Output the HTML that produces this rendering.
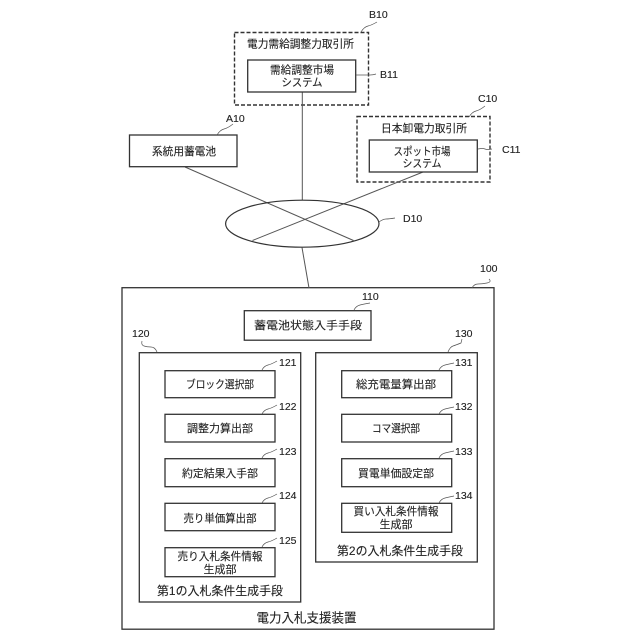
<!DOCTYPE html>
<html><head><meta charset="utf-8"><style>
html,body{margin:0;padding:0;background:#fff}
svg{display:block}
text{font-family:"Liberation Sans","Noto Sans CJK JP",sans-serif;fill:#222;stroke:#222;stroke-width:.12}
.t{font-size:11px;text-anchor:middle}
.n{font-size:10.5px;text-anchor:start}
.b{fill:#fff;stroke:#333;stroke-width:1.3}
.d{fill:none;stroke:#333;stroke-width:1.4;stroke-dasharray:4 2}
.l{stroke:#555;stroke-width:1;fill:none}
.w{stroke:#555;stroke-width:.7;fill:none}
</style></head><body>
<svg width="640" height="640" viewBox="0 0 640 640" xmlns="http://www.w3.org/2000/svg">
<rect width="640" height="640" fill="#fff"/>
<rect class="d" x="234.5" y="32.5" width="134" height="72.5"/>
<rect class="d" x="357" y="116.5" width="133" height="65.5"/>
<line class="l" x1="302.3" y1="92" x2="302.3" y2="200.5"/>
<line class="l" x1="185" y1="167" x2="353.5" y2="240.5"/>
<line class="l" x1="423" y1="172" x2="252.5" y2="240.5"/>
<ellipse cx="302.3" cy="223.7" rx="76.7" ry="23.5" fill="none" stroke="#333" stroke-width="1.2"/>
<rect class="b" x="247.7" y="60" width="108" height="32"/>
<rect class="b" x="129.5" y="135" width="107.5" height="31.7"/>
<rect class="b" x="369.3" y="140" width="108" height="32"/>
<rect x="122" y="287.7" width="372" height="341.5" fill="none" stroke="#333" stroke-width="1.3"/>
<line class="l" x1="302" y1="247.5" x2="309" y2="288"/>
<rect class="b" x="244.3" y="310.7" width="126.7" height="29.5"/>
<rect class="b" x="139.3" y="352.7" width="161.4" height="249.3"/>
<rect class="b" x="315.7" y="352.7" width="161.6" height="209.3"/>
<rect class="b" x="165" y="370.7" width="110" height="27"/>
<rect class="b" x="165" y="414.3" width="110" height="27.7"/>
<rect class="b" x="165" y="458.7" width="110" height="28"/>
<rect class="b" x="165" y="503.3" width="110" height="27.4"/>
<rect class="b" x="165" y="547.7" width="110" height="29"/>
<rect class="b" x="341.7" y="370.7" width="110" height="27"/>
<rect class="b" x="341.7" y="414.3" width="110" height="27.7"/>
<rect class="b" x="341.7" y="458.7" width="110" height="28"/>
<rect class="b" x="341.7" y="503.3" width="110" height="29"/>

<path class="w" d="M361 32q3-5 7-6t9-4"/>
<path class="w" d="M356 75q5 0 8 0t6 0 6-1"/>
<path class="w" d="M217 135q3-5 7-6t9-5"/>
<path class="w" d="M469 117q3-5 7-6t9-5"/>
<path class="w" d="M478 149q5-1 7 0t7 0"/>
<path class="w" d="M379 222q4-3 7-3t9-1"/>
<path class="w" d="M472 288q2-4 6-4t9-1 2-4"/>
<path class="w" d="M354 310q2-4 6-5t10-2"/>
<path class="w" d="M157 352q-2-5-6-5t-7-1-2-5"/>
<path class="w" d="M448 352q2-5 5-6t8-3l1-4"/>
<path class="w" d="M262 370q2-4 6-5t9-4"/>
<path class="w" d="M262 414q2-4 6-5t9-4"/>
<path class="w" d="M262 458q2-4 6-5t9-4"/>
<path class="w" d="M262 503q2-4 6-5t9-4"/>
<path class="w" d="M262 547q2-4 6-5t9-4"/>
<path class="w" d="M439 370q2-4 6-5t9-2"/>
<path class="w" d="M439 414q2-4 6-5t9-2"/>
<path class="w" d="M439 458q2-4 6-5t9-2"/>
<path class="w" d="M439 503q2-4 6-5t9-2"/>

<text class="t" x="300.5" y="47.5" textLength="107" lengthAdjust="spacingAndGlyphs">電力需給調整力取引所</text>
<text class="t" x="302" y="73.5" textLength="64" lengthAdjust="spacingAndGlyphs">需給調整市場</text>
<text class="t" x="302" y="86" textLength="41" lengthAdjust="spacingAndGlyphs">システム</text>
<text class="t" x="184" y="155" textLength="64" lengthAdjust="spacingAndGlyphs">系統用蓄電池</text>
<text class="t" x="424" y="132" textLength="86" lengthAdjust="spacingAndGlyphs">日本卸電力取引所</text>
<text class="t" x="422" y="155" textLength="57" lengthAdjust="spacingAndGlyphs">スポット市場</text>
<text class="t" x="422" y="167" textLength="39" lengthAdjust="spacingAndGlyphs">システム</text>
<text class="t" x="308" y="329" textLength="108" lengthAdjust="spacingAndGlyphs">蓄電池状態入手手段</text>
<text class="t" x="220" y="388" textLength="68" lengthAdjust="spacingAndGlyphs">ブロック選択部</text>
<text class="t" x="220" y="432" textLength="66" lengthAdjust="spacingAndGlyphs">調整力算出部</text>
<text class="t" x="220" y="477" textLength="76" lengthAdjust="spacingAndGlyphs">約定結果入手部</text>
<text class="t" x="220" y="522" textLength="73" lengthAdjust="spacingAndGlyphs">売り単価算出部</text>
<text class="t" x="220" y="560" textLength="85" lengthAdjust="spacingAndGlyphs">売り入札条件情報</text>
<text class="t" x="220" y="573" textLength="33" lengthAdjust="spacingAndGlyphs">生成部</text>
<text class="t" x="220" y="595" style="font-size:12px" textLength="126" lengthAdjust="spacingAndGlyphs">第1の入札条件生成手段</text>
<text class="t" x="396" y="388" textLength="80" lengthAdjust="spacingAndGlyphs">総充電量算出部</text>
<text class="t" x="396" y="432" textLength="48" lengthAdjust="spacingAndGlyphs">コマ選択部</text>
<text class="t" x="396" y="477" textLength="76" lengthAdjust="spacingAndGlyphs">買電単価設定部</text>
<text class="t" x="396" y="515" textLength="85" lengthAdjust="spacingAndGlyphs">買い入札条件情報</text>
<text class="t" x="396" y="528" textLength="33" lengthAdjust="spacingAndGlyphs">生成部</text>
<text class="t" x="400" y="555" style="font-size:12px" textLength="126" lengthAdjust="spacingAndGlyphs">第2の入札条件生成手段</text>
<text class="t" x="306.5" y="622.5" style="font-size:13px" textLength="100" lengthAdjust="spacingAndGlyphs">電力入札支援装置</text>

<text class="n" x="369" y="18">B10</text>
<text class="n" x="380" y="78">B11</text>
<text class="n" x="226" y="122">A10</text>
<text class="n" x="478" y="102">C10</text>
<text class="n" x="502" y="153">C11</text>
<text class="n" x="403" y="222">D10</text>
<text class="n" x="480" y="272">100</text>
<text class="n" x="362" y="300">110</text>
<text class="n" x="132" y="337">120</text>
<text class="n" x="455" y="337">130</text>
<text class="n" x="279" y="366">121</text>
<text class="n" x="279" y="410">122</text>
<text class="n" x="279" y="455">123</text>
<text class="n" x="279" y="499">124</text>
<text class="n" x="279" y="544">125</text>
<text class="n" x="455" y="366">131</text>
<text class="n" x="455" y="410">132</text>
<text class="n" x="455" y="455">133</text>
<text class="n" x="455" y="499">134</text>
</svg>
</body></html>
